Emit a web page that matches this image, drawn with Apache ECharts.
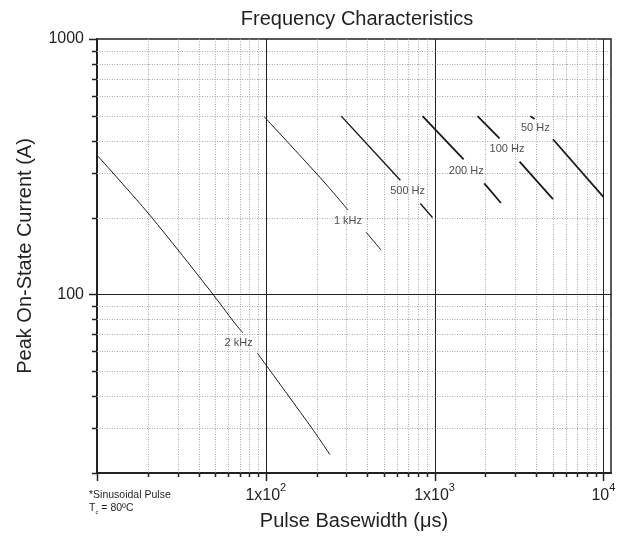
<!DOCTYPE html>
<html>
<head>
<meta charset="utf-8">
<script src="https://cdn.jsdelivr.net/npm/echarts@6/dist/echarts.min.js"></script>
<style>html,body{margin:0;padding:0;background:#fff}#chart{width:619px;height:540px}</style>
</head>
<body>
<div id="chart"></div>
<script>
// ---- data ----
const xMajorTicks = [10, 100, 1000, 10000];
const xMinorTicks = [20, 30, 40, 50, 60, 70, 80, 90, 200, 300, 400, 500, 600, 700, 800, 900, 2000, 3000, 4000, 5000, 6000, 7000, 8000, 9000];
const yMajorTicks = [100, 1000];
const yMinorTicks = [20, 30, 40, 50, 60, 70, 80, 90, 200, 300, 400, 500, 600, 700, 800, 900];

// each curve: list of segments (gaps where the label sits)
const curve2kHz = [
  [[10, 351], [18.6, 221], [28, 159], [49.3, 99], [64.7, 78], [73, 70.8]],
  [[89, 59], [133.7, 40.8], [192, 29.3], [240, 23.6]]
];
const curve1kHz = [
  [[98, 496], [160, 349], [230, 268], [307, 214]],
  [[394, 175], [483, 149]]
];
const curve500Hz = [
  [[280, 499], [627, 280]],
  [[823, 227], [972, 200]]
];
const curve200Hz = [
  [[849, 499], [1486, 338]],
  [[1970, 272], [2474, 228]]
];
const curve100Hz = [
  [[1797, 499], [2427, 408]],
  [[3189, 331], [5028, 236]]
];
const curve50Hz = [
  [[3690, 499], [3913, 486]],
  [[5028, 405], [10000, 241]]
];
const curveLabels = [
  { name: '2 kHz', value: [69, 64.3] },
  { name: '1 kHz', value: [307, 194] },
  { name: '500 Hz', value: [692, 254] },
  { name: '200 Hz', value: [1541, 304] },
  { name: '100 Hz', value: [2685, 370] },
  { name: '50 Hz', value: [3951, 447] }
];

const X_MIN = 10, X_MAX = 11100, Y_MIN = 20, Y_MAX = 1000;
const FONT = 'Liberation Sans, Arial, Helvetica, sans-serif';
const TEXT = '#231f20';

// ---- grid / tick items (custom series) ----
const gridItems = [];
xMajorTicks.forEach(v => gridItems.push([v, 100, 0]));
xMinorTicks.forEach(v => gridItems.push([v, 100, 1]));
yMajorTicks.forEach(v => gridItems.push([100, v, 2]));
yMinorTicks.forEach(v => gridItems.push([100, v, 3]));

function renderGrid(params, api) {
  const cs = params.coordSys;
  const kind = api.value(2);
  const children = [];
  const left = cs.x, right = cs.x + cs.width, top = cs.y, bottom = cs.y + cs.height;
  if (kind < 2) {
    const v = api.value(0);
    const px = Math.round(api.coord([v, Y_MIN])[0]) + 0.5;
    const major = kind === 0;
    if (Math.abs(px - left) > 2 && Math.abs(px - right) > 2) {
      children.push({ type: 'line', shape: { x1: px, y1: top, x2: px, y2: bottom },
        style: major ? { stroke: '#222', lineWidth: 1 } : { stroke: '#a8a8a8', lineWidth: 1, lineDash: [1, 1.5] } });
    }
    children.push({ type: 'line', shape: { x1: px, y1: bottom, x2: px, y2: bottom + (major ? 8 : 4) },
      style: { stroke: '#222', lineWidth: 1.5 } });
  } else {
    const v = api.value(1);
    const py = Math.round(api.coord([X_MIN, v])[1]) + 0.5;
    const major = kind === 2;
    if (Math.abs(py - top) > 2 && Math.abs(py - bottom) > 2) {
      children.push({ type: 'line', shape: { x1: left, y1: py, x2: right, y2: py },
        style: major ? { stroke: '#222', lineWidth: 1 } : { stroke: '#a8a8a8', lineWidth: 1, lineDash: [1, 1.5] } });
    }
    children.push({ type: 'line', shape: { x1: left - (major ? 8 : 5), y1: py, x2: left, y2: py },
      style: { stroke: '#222', lineWidth: 1.5 } });
  }
  return { type: 'group', children };
}

const curves = [
  { data: curve2kHz, width: 1 },
  { data: curve1kHz, width: 1 },
  { data: curve500Hz, width: 1.4 },
  { data: curve200Hz, width: 1.8 },
  { data: curve100Hz, width: 1.8 },
  { data: curve50Hz, width: 1.8 }
];

const series = [{
  type: 'custom',
  data: gridItems,
  renderItem: renderGrid,
  clip: false,
  silent: true,
  z: 1
}];
curves.forEach(c => {
  c.data.forEach(seg => {
    series.push({
      type: 'line', data: seg, showSymbol: false, symbol: 'none', smooth: 0.3,
      lineStyle: { color: '#1a1a1a', width: c.width }, z: 3, silent: true, animation: false
    });
  });
});
series.push({
  type: 'scatter', data: curveLabels, symbol: 'rect', symbolSize: 1,
  itemStyle: { color: 'rgba(0,0,0,0)' }, z: 5, silent: true,
  label: { show: true, position: 'inside', formatter: '{b}', fontSize: 11, color: '#222', fontFamily: FONT }
});

function isPow10(v) {
  const l = Math.log10(v);
  return Math.abs(l - Math.round(l)) < 1e-6;
}

const chart = echarts.init(document.getElementById('chart'), null, { renderer: 'canvas' });
chart.setOption({
  animation: false,
  backgroundColor: '#fff',
  textStyle: { fontFamily: FONT },
  grid: { left: 97, right: 8, top: 39, bottom: 67, show: true, borderColor: '#222', borderWidth: 1.5, backgroundColor: 'transparent' },
  xAxis: {
    type: 'log', logBase: 10, min: X_MIN, max: X_MAX,
    axisLine: { show: true, lineStyle: { color: '#222', width: 2 } },
    axisTick: { show: false }, splitLine: { show: false }, minorTick: { show: false },
    axisLabel: {
      margin: 9, color: TEXT, fontFamily: FONT, fontSize: 16, showMinLabel: true, showMaxLabel: true,
      formatter: function (v) {
        if (!isPow10(v)) return '';
        const e = Math.round(Math.log10(v));
        if (e < 2) return '';
        return (e === 4 ? '{b|10}' : '{b|1x10}') + '{s|' + e + '}';
      },
      rich: {
        b: { fontSize: 16, lineHeight: 22, verticalAlign: 'bottom', color: TEXT, fontFamily: FONT },
        s: { fontSize: 11, lineHeight: 22, verticalAlign: 'top', color: TEXT, fontFamily: FONT }
      }
    },
    name: 'Pulse Basewidth (\u03bcs)', nameLocation: 'middle', nameGap: 38,
    nameTextStyle: { fontSize: 20, color: TEXT, fontFamily: FONT }
  },
  yAxis: {
    type: 'log', logBase: 10, min: Y_MIN, max: Y_MAX,
    axisLine: { show: true, lineStyle: { color: '#222', width: 2 } },
    axisTick: { show: false }, splitLine: { show: false }, minorTick: { show: false },
    axisLabel: {
      margin: 13, color: TEXT, fontFamily: FONT, fontSize: 16, showMinLabel: true, showMaxLabel: true,
      formatter: function (v) { return isPow10(v) ? String(Math.round(v)) : ''; }
    },
    name: 'Peak On-State Current (A)', nameLocation: 'middle', nameGap: 62,
    nameTextStyle: { fontSize: 20, color: TEXT, fontFamily: FONT }
  },
  graphic: [
    { type: 'text', x: 357, y: 19, style: { text: 'Frequency Characteristics', fontSize: 20, fontFamily: FONT, fill: TEXT, textAlign: 'center', textVerticalAlign: 'middle' } },
    { type: 'text', x: 89, y: 495, style: { text: '*Sinusoidal Pulse', fontSize: 10.5, fontFamily: FONT, fill: TEXT, textAlign: 'left', textVerticalAlign: 'middle' } },
    { type: 'text', x: 89, y: 508, style: { text: 'T{sub|c} = 80\u00baC', fontSize: 10.5, fontFamily: FONT, fill: TEXT, textAlign: 'left', textVerticalAlign: 'middle',
      rich: { sub: { fontSize: 6, verticalAlign: 'bottom', lineHeight: 14, fontFamily: FONT, fill: TEXT } } } }
  ],
  series: series
});
</script>
</body>
</html>
